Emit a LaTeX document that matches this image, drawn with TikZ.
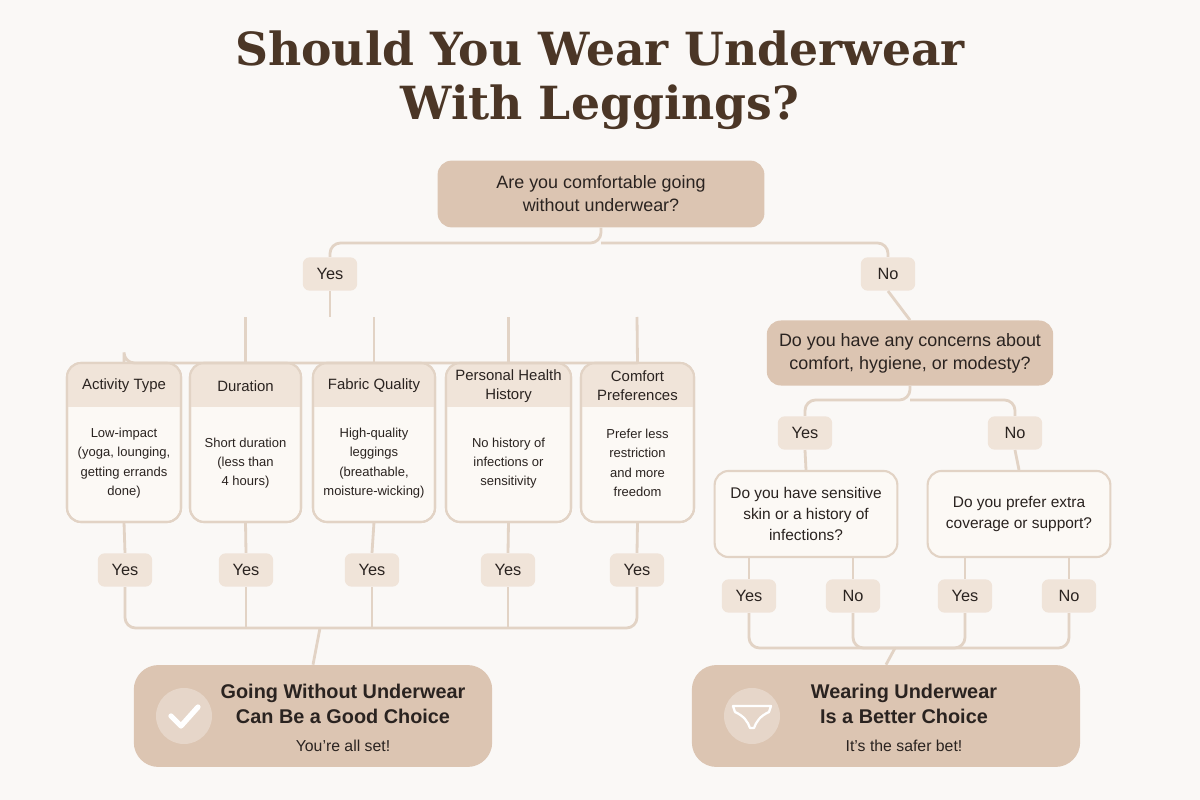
\documentclass[tikz,border=0pt]{standalone}
\usepackage{fontspec}
\setmainfont{Liberation Sans}
\newfontfamily\titlefont{DejaVu Serif}
\definecolor{bg}{HTML}{FAF8F6}
\definecolor{tan}{HTML}{DCC5B2}
\definecolor{lt}{HTML}{FCF9F5}
\definecolor{hdr}{HTML}{F0E4D9}
\definecolor{ln}{HTML}{E2D3C5}
\definecolor{brown}{HTML}{4B3626}
\definecolor{txt}{HTML}{2A2320}
\begin{document}
\begin{tikzpicture}[x=0.02cm,y=-0.02cm,
  conn/.style={draw=ln,line width=1.6pt,rounded corners=6pt},
  qbox/.style={fill=tan,rounded corners=8pt,text=txt,align=center,font=\fontsize{10.2}{13}\selectfont},
  yn/.style={fill=hdr,rounded corners=4pt,minimum width=31pt,minimum height=19pt,text=txt,font=\fontsize{9.3}{11}\selectfont},
  cardhead/.style={text=txt,align=center,font=\fontsize{8.5}{11}\selectfont},
  cardbody/.style={text=txt,align=center,font=\fontsize{7.4}{11}\selectfont},
  qlt/.style={fill=lt,draw=ln,line width=1.2pt,rounded corners=8pt,text=txt,align=center,font=\fontsize{8.8}{12}\selectfont}]
\fill[bg] (0,0) rectangle (1200,800);
\useasboundingbox (0,0) rectangle (1200,800);
\node[text=brown,font=\titlefont\bfseries\fontsize{26}{31}\selectfont,align=center] (title) at (600,80) {Should You Wear Underwear\\With Leggings?};
% Q1
\node[qbox,minimum width=186pt,minimum height=38pt] (q1) at (601,194) {Are you comfortable going\\without underwear?};
\node[yn] (yes1) at (330,274) {Yes};
\node[yn] (no1) at (888,274) {No};
\draw[conn] (q1.south) -- (601,243) -| (yes1.north);
\draw[conn] (601,243) -| (no1.north);
% cards
\foreach \n/\xa/\xb/\h/\b in {a/67/181/{Activity Type}/{Low-impact\\(yoga, lounging,\\getting errands\\done)},
  b/190/301/{Duration}/{Short duration\\(less than\\4 hours)},
  c/313/435/{Fabric Quality}/{High-quality\\leggings\\(breathable,\\moisture-wicking)},
  d/446/571/{Personal Health\\History}/{No history of\\infections or\\sensitivity},
  e/581/694/{Comfort\\Preferences}/{Prefer less\\restriction\\and more\\freedom}}{
  \draw[fill=lt,draw=ln,line width=1.2pt,rounded corners=8pt] (\xa,363) rectangle (\xb,522);
  \fill[hdr,rounded corners=7pt] (\xa+1,364) rectangle (\xb-1,407);
  \fill[hdr] (\xa+1,392) rectangle (\xb-1,407);
  \draw[draw=ln,line width=1.2pt,rounded corners=8pt] (\xa,363) rectangle (\xb,522);
  \coordinate (top\n) at ({(\xa+\xb)/2},363);
  \coordinate (bot\n) at ({(\xa+\xb)/2},522);
  \node[cardhead] (h\n) at ({(\xa+\xb)/2},386) {\h};
  \node[cardbody] (c\n) at ({(\xa+\xb)/2},463) {\b};
}
\draw[conn] (yes1.south) -- (330,317);
\draw[conn] (topa) |- (tope);
\draw[conn] (tope) -- (637,317);
\foreach \n in {b,c,d}{\draw[conn] (top\n) -- ++(0,-46);}
% yes row
\foreach \n/\x in {a/125,b/246,c/372,d/508,e/637}{
  \node[yn] (y\n) at (\x,570) {Yes};
  \draw[conn] (bot\n) -- (y\n.north);
}
\node[fill=tan,rounded corners=14pt,minimum width=204pt,minimum height=58pt] (good) at (313,716) {};
\draw[conn] (ya.south) |- (ye.south |- 0,628) -- (ye.south);
\foreach \n in {b,c,d}{\draw[conn] (y\n.south) -- (y\n.south |- 0,628);}
\draw[conn] (320,628) -- (good.north);
\fill[white,opacity=0.3] (184,716) circle (28);
\draw[white,line width=3pt,line cap=round,line join=round] (171,716) -- (181,726) -- (198,707);
\node[text=txt,align=center,font=\bfseries\fontsize{11.3}{14.5}\selectfont] (gt) at (343,704) {Going Without Underwear\\Can Be a Good Choice};
\node[text=txt,font=\fontsize{9}{11}\selectfont] (gs) at (343,746) {You're all set!};
% right side
\node[qbox,minimum width=163pt,minimum height=37pt] (q2) at (910,353) {Do you have any concerns about\\comfort, hygiene, or modesty?};
\draw[conn] (no1.south) -- (q2.north);
\node[yn] (yes2) at (805,433) {Yes};
\node[yn] (no2) at (1015,433) {No};
\draw[conn] (q2.south) -- (910,400) -| (yes2.north);
\draw[conn] (910,400) -| (no2.north);
\node[qlt,minimum width=104pt,minimum height=49pt] (q3) at (806,514) {Do you have sensitive\\skin or a history of\\infections?};
\node[qlt,minimum width=104pt,minimum height=49pt] (q4) at (1019,514) {Do you prefer extra\\coverage or support?};
\draw[conn] (yes2.south) -- (q3.north);
\draw[conn] (no2.south) -- (q4.north);
\foreach \n/\t/\x in {p/Yes/749,q/No/853,r/Yes/965,s/No/1069}{
  \node[yn] (\n) at (\x,596) {\t};
}
\draw[conn] (749,557) -- (p.north);
\draw[conn] (853,557) -- (q.north);
\draw[conn] (965,557) -- (r.north);
\draw[conn] (1069,557) -- (s.north);
\node[fill=tan,rounded corners=14pt,minimum width=221pt,minimum height=58pt] (bad) at (886,716) {};
\draw[conn] (p.south) |- (895,648);
\draw[conn] (q.south) |- (895,648);
\draw[conn] (r.south) |- (895,648);
\draw[conn] (s.south) |- (895,648);
\draw[conn] (895,648) -- (bad.north);
\fill[white,opacity=0.3] (752,716) circle (28);
\draw[white,line width=1.3pt,line join=round] (733,706) -- (771,706) -- (769,712) .. controls (760,716) and (756,722) .. (754,728) -- (750,728) .. controls (748,722) and (744,716) .. (735,712) -- cycle;
\node[text=txt,align=center,font=\bfseries\fontsize{11.3}{14.5}\selectfont] (bt) at (904,704) {Wearing Underwear\\Is a Better Choice};
\node[text=txt,font=\fontsize{9}{11}\selectfont] (bs) at (904,746) {It's the safer bet!};
\end{tikzpicture}
\end{document}
